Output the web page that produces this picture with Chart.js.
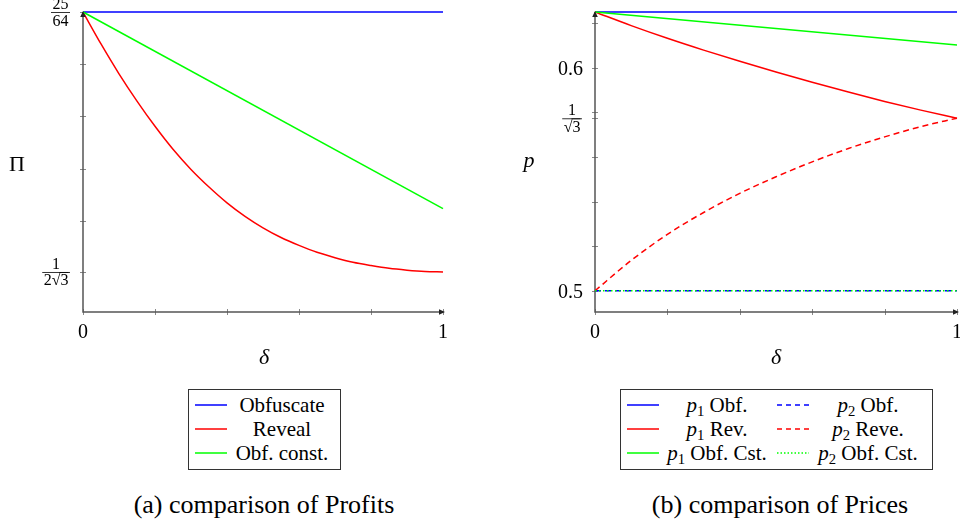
<!DOCTYPE html>
<html>
<head>
<meta charset="utf-8">
<script src="https://cdn.jsdelivr.net/npm/chart.js@4.4.1/dist/chart.umd.min.js"></script>
<style>
  body { margin: 0; width: 960px; height: 526px; background: #fff; position: relative; overflow: hidden;
         font-family: "Liberation Serif", "DejaVu Serif", serif; color: #000; }
  canvas { position: absolute; top: 0; }
  #profits { left: 0; }
  #prices { left: 480px; }
  .legend { position: absolute; border: 1px solid #333; box-sizing: border-box; background: #fff; }
  .row { position: absolute; left: 0; right: 0; height: 24px; }
  .row svg { position: absolute; top: 0; }
  .row span { position: absolute; top: 0; line-height: 24px; font-size: 21px; text-align: center; white-space: nowrap; }
  sub { font-size: 0.7em; line-height: 0; vertical-align: -0.25em; }
  .caption { position: absolute; top: 491px; width: 400px; text-align: center; font-size: 26px; line-height: 28px; }
</style>
</head>
<body>
<canvas id="profits" width="480" height="380"></canvas>
<canvas id="prices" width="480" height="380"></canvas>

<div class="legend" id="legendA" style="left:188px; top:389px; width:153px; height:81px;"></div>
<div class="legend" id="legendB" style="left:620px; top:389px; width:313px; height:81px;"></div>

<div class="caption" style="left:64px;">(a) comparison of Profits</div>
<div class="caption" style="left:580px;">(b) comparison of Prices</div>

<script>
// ---- data ----
const deltaEnds = [0, 1];
const deltaFine = [0, 0.05, 0.1, 0.15, 0.2, 0.25, 0.3, 0.35, 0.4, 0.45, 0.5,
                   0.55, 0.6, 0.65, 0.7, 0.75, 0.8, 0.85, 0.9, 0.95, 1];
const deltaTenths = [0, 0.1, 0.2, 0.3, 0.4, 0.5, 0.6, 0.7, 0.8, 0.9, 1];

// (a) profits
const profitObfuscate = [0.390625, 0.390625];
const profitReveal = [0.3906, 0.3781, 0.3664, 0.3557, 0.3458, 0.3368, 0.3289, 0.3220, 0.3158, 0.3105, 0.3060,
                      0.3022, 0.2991, 0.2964, 0.2943, 0.2925, 0.2912, 0.2901, 0.2894, 0.2889, 0.2887];
const profitObfConst = [0.390625, 0.3135];

// (b) prices
const p1Obf = [0.625, 0.625];
const p2Obf = [0.5, 0.5];
const p1Rev = [0.625, 0.6189, 0.6132, 0.6079, 0.6029, 0.5981, 0.5935, 0.5891, 0.5849, 0.5810, 0.5774];
const p2Rev = [0.5, 0.5136, 0.5253, 0.5351, 0.5437, 0.5511, 0.5578, 0.5638, 0.5690, 0.5736, 0.5774];
const p1ObfCst = [0.625, 0.6102];
const p2ObfCst = [0.5, 0.5];

// ticks
const xTicks = [0, 0.2, 0.4, 0.6, 0.8, 1];
const xLabels = [{ value: 0, text: '0' }, { value: 1, text: '1' }];
const profitTicks = [0.390625, 0.3704, 0.3497, 0.3292, 0.3087, 0.288675];
const profitLabels = [{ value: 0.390625, num: '25', den: '64' }, { value: 0.288675, num: '1', den: '2√3' }];
const priceTicks = [0.5, 0.52, 0.54, 0.56, 0.58, 0.57735, 0.6, 0.62];
const priceLabels = [{ value: 0.6, text: '0.6' }, { value: 0.57735, num: '1', den: '√3' }, { value: 0.5, text: '0.5' }];

const SERIF = '"Liberation Serif", "DejaVu Serif", serif';

function drawDen(ctx, den, cx, baseline) {
  // denominator, with an overline on the radicand when there is a root
  const w = ctx.measureText(den).width;
  const x = cx - w / 2;
  const k = den.indexOf('√');
  ctx.textAlign = 'left';
  ctx.fillText(den, x, baseline);
  if (k >= 0) {
    const pre = ctx.measureText(den.slice(0, k + 1)).width;
    ctx.beginPath();
    ctx.moveTo(x + pre - 1, baseline - 13);
    ctx.lineTo(x + w, baseline - 13);
    ctx.lineWidth = 0.8;
    ctx.stroke();
  }
}

const texAxes = {
  id: 'texAxes',
  beforeDatasetsDraw(chart, args, o) {
    const { ctx, chartArea: a, scales: { x, y } } = chart;
    ctx.save();
    ctx.strokeStyle = '#888';
    ctx.lineWidth = 1;
    ctx.beginPath();
    xTicks.forEach(v => {
      const px = Math.round(x.getPixelForValue(v)) + 0.5;
      ctx.moveTo(px, a.bottom - 3); ctx.lineTo(px, a.bottom + 3);
    });
    o.yTicks.forEach(v => {
      const py = Math.round(y.getPixelForValue(v)) + 0.5;
      ctx.moveTo(a.left - 3, py); ctx.lineTo(a.left + 3, py);
    });
    ctx.stroke();
    ctx.strokeStyle = '#555';
    ctx.lineWidth = 1.5;
    ctx.beginPath();
    ctx.moveTo(a.left, a.top); ctx.lineTo(a.left, a.bottom); ctx.lineTo(a.right, a.bottom);
    ctx.stroke();
    ctx.restore();
  },
  afterDatasetsDraw(chart, args, o) {
    const { ctx, chartArea: a, scales: { x, y } } = chart;
    ctx.save();
    // arrow heads
    ctx.fillStyle = '#222';
    ctx.beginPath();
    ctx.moveTo(a.left, a.top - 1); ctx.lineTo(a.left - 2.8, a.top + 5); ctx.lineTo(a.left + 2.8, a.top + 5);
    ctx.fill();
    ctx.beginPath();
    ctx.moveTo(a.right + 2, a.bottom); ctx.lineTo(a.right - 4, a.bottom - 2.8); ctx.lineTo(a.right - 4, a.bottom + 2.8);
    ctx.fill();

    ctx.fillStyle = '#000';
    ctx.strokeStyle = '#000';
    ctx.font = '20px ' + SERIF;
    ctx.textAlign = 'center';
    xLabels.forEach(l => ctx.fillText(l.text, x.getPixelForValue(l.value), a.bottom + 26));

    o.yLabels.forEach(l => {
      const py = y.getPixelForValue(l.value);
      if (l.text) {
        ctx.font = '20px ' + SERIF;
        ctx.textAlign = 'right';
        ctx.fillText(l.text, a.left - 12, py + 7);
        return;
      }
      ctx.font = '16px ' + SERIF;
      const w = Math.max(ctx.measureText(l.num).width, ctx.measureText(l.den).width) + 3;
      const right = a.left - 13;
      const cx = right - w / 2;
      ctx.textAlign = 'center';
      ctx.fillText(l.num, cx, py - 3);
      ctx.beginPath();
      ctx.moveTo(right - w, py + 0.5); ctx.lineTo(right, py + 0.5);
      ctx.lineWidth = 0.8;
      ctx.stroke();
      drawDen(ctx, l.den, cx, py + 13.5);
    });

    // axis titles
    ctx.textAlign = 'center';
    o.titles.forEach(t => {
      ctx.font = (t.italic ? 'italic ' : '') + '22px ' + SERIF;
      ctx.fillText(t.text, t.x, t.y);
    });
    ctx.restore();
  }
};

function series(label, xs, ys, color, dash, order) {
  return {
    label, data: xs.map((v, i) => ({ x: v, y: ys[i] })),
    borderColor: color, borderWidth: 1.5, borderDash: dash, pointRadius: 0,
    fill: false, clip: false, cubicInterpolationMode: 'monotone', order
  };
}

function options(padding, yMin, yMax, yTicks, yLabels, titles) {
  return {
    responsive: false, animation: false, events: [],
    layout: { padding },
    plugins: { legend: { display: false }, tooltip: { enabled: false }, texAxes: { yTicks, yLabels, titles } },
    scales: {
      x: { type: 'linear', min: 0, max: 1, display: false },
      y: { type: 'linear', min: yMin, max: yMax, display: false }
    }
  };
}

new Chart(document.getElementById('profits'), {
  type: 'line',
  data: {
    datasets: [
      series('Obfuscate', deltaEnds, profitObfuscate, '#0000ff', [], 3),
      series('Reveal', deltaFine, profitReveal, '#ff0000', [], 2),
      series('Obf. const.', deltaEnds, profitObfConst, '#00ff00', [], 1)
    ]
  },
  options: options({ left: 83, right: 37, top: 12, bottom: 68 }, 0.27299, 0.390625,
    profitTicks, profitLabels,
    [{ text: 'Π', x: 17, y: 171, italic: false }, { text: 'δ', x: 264, y: 364, italic: true }]),
  plugins: [texAxes]
});

new Chart(document.getElementById('prices'), {
  type: 'line',
  data: {
    datasets: [
      series('p1 Obf.', deltaEnds, p1Obf, '#0000ff', [], 6),
      series('p2 Obf.', deltaEnds, p2Obf, '#0000ff', [6, 4], 5),
      series('p1 Rev.', deltaTenths, p1Rev, '#ff0000', [], 4),
      series('p2 Reve.', deltaTenths, p2Rev, '#ff0000', [6, 4], 3),
      series('p1 Obf. Cst.', deltaEnds, p1ObfCst, '#00ff00', [], 2),
      series('p2 Obf. Cst.', deltaEnds, p2ObfCst, '#00ff00', [1.5, 2.5], 1)
    ]
  },
  options: options({ left: 115, right: 3, top: 12, bottom: 68 }, 0.49048, 0.625,
    priceTicks, priceLabels,
    [{ text: 'p', x: 49, y: 167, italic: true }, { text: 'δ', x: 296, y: 364, italic: true }]),
  plugins: [texAxes]
});

// ---- legends (html text, svg line samples) ----
function sample(color, dash, left) {
  return '<svg style="left:' + left + 'px" width="32" height="24"><line x1="0" y1="12" x2="32" y2="12" stroke="' + color +
         '" stroke-width="1.5" stroke-dasharray="' + dash + '"/></svg>';
}
function legendRow(top, cols) {
  return '<div class="row" style="top:' + top + 'px">' + cols.map(c =>
    sample(c.color, c.dash, c.lineLeft) +
    '<span style="left:' + (c.textCenter - 80) + 'px; width:160px">' + c.html + '</span>').join('') + '</div>';
}
const legendA = [
  { color: '#0000ff', dash: '', html: 'Obfuscate' },
  { color: '#ff0000', dash: '', html: 'Reveal' },
  { color: '#00ff00', dash: '', html: 'Obf. const.' }
];
document.getElementById('legendA').innerHTML = legendA.map((e, i) =>
  legendRow(3 + i * 24, [{ ...e, lineLeft: 6, textCenter: 93 }])).join('');

const legendB = [
  [{ color: '#0000ff', dash: '', html: '<i>p</i><sub>1</sub> Obf.' }, { color: '#0000ff', dash: '5 4', html: '<i>p</i><sub>2</sub> Obf.' }],
  [{ color: '#ff0000', dash: '', html: '<i>p</i><sub>1</sub> Rev.' }, { color: '#ff0000', dash: '5 4', html: '<i>p</i><sub>2</sub> Reve.' }],
  [{ color: '#00ff00', dash: '', html: '<i>p</i><sub>1</sub> Obf. Cst.' }, { color: '#00ff00', dash: '1.5 2', html: '<i>p</i><sub>2</sub> Obf. Cst.' }]
];
document.getElementById('legendB').innerHTML = legendB.map((r, i) =>
  legendRow(3 + i * 24, [{ ...r[0], lineLeft: 6, textCenter: 96 }, { ...r[1], lineLeft: 156, textCenter: 247 }])).join('');
</script>
</body>
</html>
